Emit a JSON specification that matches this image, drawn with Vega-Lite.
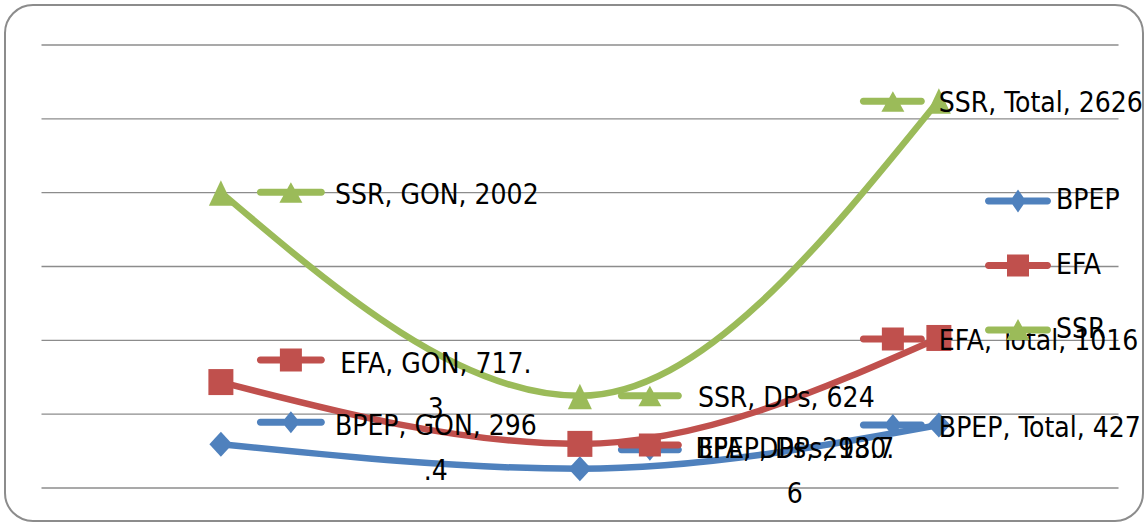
{
  "$schema": "https://vega.github.io/schema/vega-lite/v6.json",
  "width": 1138,
  "height": 516,
  "autosize": {"type": "none"},
  "padding": {"left": 5, "top": 5, "right": 5, "bottom": 4},
  "background": "white",
  "config": {
    "view": {"stroke": "#8c8c8c", "strokeWidth": 2, "cornerRadius": 28},
    "text": {"font": "DejaVu Sans Condensed, sans-serif", "fontSize": 28, "color": "#000000"}
  },
  "datasets": {
    "d": [
      {"series": "BPEP", "cat": "GON", "value": 296.4, "label": "BPEP, GON, 296\n.4"},
      {"series": "BPEP", "cat": "DPs", "value": 130.6, "label": "BPEP, DPs, 130.\n6"},
      {"series": "BPEP", "cat": "Total", "value": 427, "label": "BPEP, Total, 427"},
      {"series": "EFA", "cat": "GON", "value": 717.3, "label": "EFA, GON, 717.\n3"},
      {"series": "EFA", "cat": "DPs", "value": 298.7, "label": "EFA, DPs, 298.7"},
      {"series": "EFA", "cat": "Total", "value": 1016, "label": "EFA, Total, 1016"},
      {"series": "SSR", "cat": "GON", "value": 2002, "label": "SSR, GON, 2002"},
      {"series": "SSR", "cat": "DPs", "value": 624, "label": "SSR, DPs, 624"},
      {"series": "SSR", "cat": "Total", "value": 2626, "label": "SSR, Total, 2626"}
    ],
    "g": [{"v": 0}, {"v": 500}, {"v": 1000}, {"v": 1500}, {"v": 2000}, {"v": 2500}, {"v": 3000}]
  },
  "data": {"name": "d"},
  "resolve": {"scale": {"x": "independent"}},
  "layer": [
    {
      "data": {"name": "g"},
      "mark": {"type": "rule", "stroke": "#8c8c8c", "strokeWidth": 1.3},
      "encoding": {
        "y": {"field": "v", "type": "quantitative", "scale": {"domain": [-223.5, 3270.8], "nice": false, "zero": false}, "axis": null},
        "x": {"datum": -0.5, "type": "quantitative", "scale": {"domain": [-0.6017, 2.5682], "nice": false, "zero": false}, "axis": null},
        "x2": {"datum": 2.5}
      }
    },
    {
      "encoding": {
        "x": {"field": "cat", "type": "ordinal", "scale": {"type": "point", "domain": ["GON", "DPs", "Total"], "padding": 0.585, "align": 0.514}, "axis": null},
        "y": {"field": "value", "type": "quantitative", "scale": {"domain": [-223.5, 3270.8], "nice": false, "zero": false}, "axis": null}
      },
      "layer": [
        {
          "mark": {"type": "point", "filled": true, "opacity": 0, "size": 4},
          "encoding": {
            "fill": {"field": "series", "type": "nominal", "scale": {"domain": ["BPEP", "EFA", "SSR"], "range": ["#4f81bd", "#c0504d", "#9bbb59"]},
              "legend": {"orient": "none", "legendX": 999, "legendY": 182, "title": null, "labelFont": "DejaVu Sans Condensed, sans-serif", "labelFontSize": 28, "labelColor": "#000000", "symbolSize": 4, "symbolStrokeWidth": 0, "labelOffset": 24, "rowPadding": 36.5, "padding": 0, "symbolOpacity": 1}},
            "shape": {"field": "series", "type": "nominal", "scale": {"domain": ["BPEP", "EFA", "SSR"], "range": [
              "M-29.5,-3.5H29.5A3.5,3.5 0 0 1 29.5,3.5H-29.5A3.5,3.5 0 0 1 -29.5,-3.5ZM0,-11.5L8,0L0,11.5L-8,0Z",
              "M-29.5,-3.5H29.5A3.5,3.5 0 0 1 29.5,3.5H-29.5A3.5,3.5 0 0 1 -29.5,-3.5ZM-11,-11H11V11H-11Z",
              "M-29.5,-3.5H29.5A3.5,3.5 0 0 1 29.5,3.5H-29.5A3.5,3.5 0 0 1 -29.5,-3.5ZM0,-11L11.5,10H-11.5Z"]},
              "legend": {"orient": "none", "legendX": 999, "legendY": 182, "title": null, "labelFont": "DejaVu Sans Condensed, sans-serif", "labelFontSize": 28, "labelColor": "#000000", "symbolSize": 4, "symbolStrokeWidth": 0, "labelOffset": 24, "rowPadding": 36.5, "padding": 0, "symbolOpacity": 1}}
          }
        },
        {
          "mark": {"type": "line", "interpolate": "monotone", "strokeWidth": 6.5, "strokeCap": "round"},
          "encoding": {
            "color": {"field": "series", "type": "nominal", "scale": {"domain": ["BPEP", "EFA", "SSR"], "range": ["#4f81bd", "#c0504d", "#9bbb59"]}, "legend": null}
          }
        },
        {
          "mark": {"type": "point", "filled": true, "opacity": 1, "size": 4},
          "encoding": {
            "color": {"field": "series", "type": "nominal", "legend": null},
            "shape": {"condition": [
              {"test": "datum.series === 'BPEP'", "value": "M0,-12.5L11.5,0L0,12.5L-11.5,0Z"},
              {"test": "datum.series === 'EFA'", "value": "M-12.5,-13H12.5V13H-12.5Z"}],
              "value": "M0,-12L12,13.5H-12Z"}
          }
        },
        {
          "transform": [{"filter": "datum.cat === 'GON'"}],
          "mark": {"type": "point", "filled": true, "opacity": 1, "size": 4},
          "encoding": {
            "color": {"field": "series", "type": "nominal", "legend": null},
            "shape": {"condition": [
              {"test": "datum.series === 'BPEP'", "value": "M39.5,-25.5H100.5A3.5,3.5 0 0 1 100.5,-18.5H39.5A3.5,3.5 0 0 1 39.5,-25.5ZM70,-33L79,-22L70,-11L61,-22Z"},
              {"test": "datum.series === 'EFA'", "value": "M39.5,-25.5H100.5A3.5,3.5 0 0 1 100.5,-18.5H39.5A3.5,3.5 0 0 1 39.5,-25.5ZM59,-33.5H81V-10.5H59Z"}],
              "value": "M39.5,-3.5H100.5A3.5,3.5 0 0 1 100.5,3.5H39.5A3.5,3.5 0 0 1 39.5,-3.5ZM70,-10L81.5,10.5H58.5Z"}
          }
        },
        {
          "transform": [{"filter": "datum.cat === 'DPs'"}],
          "mark": {"type": "point", "filled": true, "opacity": 1, "size": 4},
          "encoding": {
            "color": {"field": "series", "type": "nominal", "legend": null},
            "shape": {"condition": [
              {"test": "datum.series === 'BPEP'", "value": "M41.5,-22.5H98.5A3.5,3.5 0 0 1 98.5,-15.5H41.5A3.5,3.5 0 0 1 41.5,-22.5ZM70,-30L79,-19L70,-8L61,-19Z"},
              {"test": "datum.series === 'EFA'", "value": "M41.5,-2.5H98.5A3.5,3.5 0 0 1 98.5,4.5H41.5A3.5,3.5 0 0 1 41.5,-2.5ZM59,-10.5H81V12.5H59Z"}],
              "value": "M41.5,-3.5H98.5A3.5,3.5 0 0 1 98.5,3.5H41.5A3.5,3.5 0 0 1 41.5,-3.5ZM70,-10L81.5,10.5H58.5Z"}
          }
        },
        {
          "transform": [{"filter": "datum.cat === 'Total'"}],
          "mark": {"type": "point", "filled": true, "opacity": 1, "size": 4},
          "encoding": {
            "color": {"field": "series", "type": "nominal", "legend": null},
            "shape": {"condition": [
              {"test": "datum.series === 'BPEP'", "value": "M-75.5,-3.5H-17.5A3.5,3.5 0 0 1 -17.5,3.5H-75.5A3.5,3.5 0 0 1 -75.5,-3.5ZM-46,-11L-37,0L-46,11L-55,0Z"},
              {"test": "datum.series === 'EFA'", "value": "M-75.5,-2.5H-17.5A3.5,3.5 0 0 1 -17.5,4.5H-75.5A3.5,3.5 0 0 1 -75.5,-2.5ZM-57,-10.5H-35V12.5H-57Z"}],
              "value": "M-75.5,-2.5H-17.5A3.5,3.5 0 0 1 -17.5,4.5H-75.5A3.5,3.5 0 0 1 -75.5,-2.5ZM-46,-9L-34.5,11.5H-57.5Z"}
          }
        },
        {
          "transform": [{"filter": "datum.cat === 'GON' && datum.series === 'SSR'"}],
          "mark": {"type": "text", "align": "left", "baseline": "middle", "dx": 114, "dy": 4},
          "encoding": {"text": {"field": "label"}}
        },
        {
          "transform": [{"filter": "datum.cat === 'GON' && datum.series !== 'SSR'"}],
          "mark": {"type": "text", "align": "center", "baseline": "middle", "dx": 215, "dy": -17, "lineBreak": "\n", "lineHeight": 45},
          "encoding": {"text": {"field": "label"}}
        },
        {
          "transform": [{"filter": "datum.cat === 'DPs' && datum.series === 'SSR'"}],
          "mark": {"type": "text", "align": "left", "baseline": "middle", "dx": 118, "dy": 3},
          "encoding": {"text": {"field": "label"}}
        },
        {
          "transform": [{"filter": "datum.cat === 'DPs' && datum.series === 'EFA'"}],
          "mark": {"type": "text", "align": "left", "baseline": "middle", "dx": 118, "dy": 6},
          "encoding": {"text": {"field": "label"}}
        },
        {
          "transform": [{"filter": "datum.cat === 'DPs' && datum.series === 'BPEP'"}],
          "mark": {"type": "text", "align": "center", "baseline": "middle", "dx": 215, "dy": -19, "lineBreak": "\n", "lineHeight": 45},
          "encoding": {"text": {"field": "label"}}
        },
        {
          "transform": [{"filter": "datum.cat === 'Total'"}],
          "mark": {"type": "text", "align": "left", "baseline": "middle", "dx": 0, "dy": 4},
          "encoding": {"text": {"field": "label"}}
        }
      ]
    }
  ]
}
